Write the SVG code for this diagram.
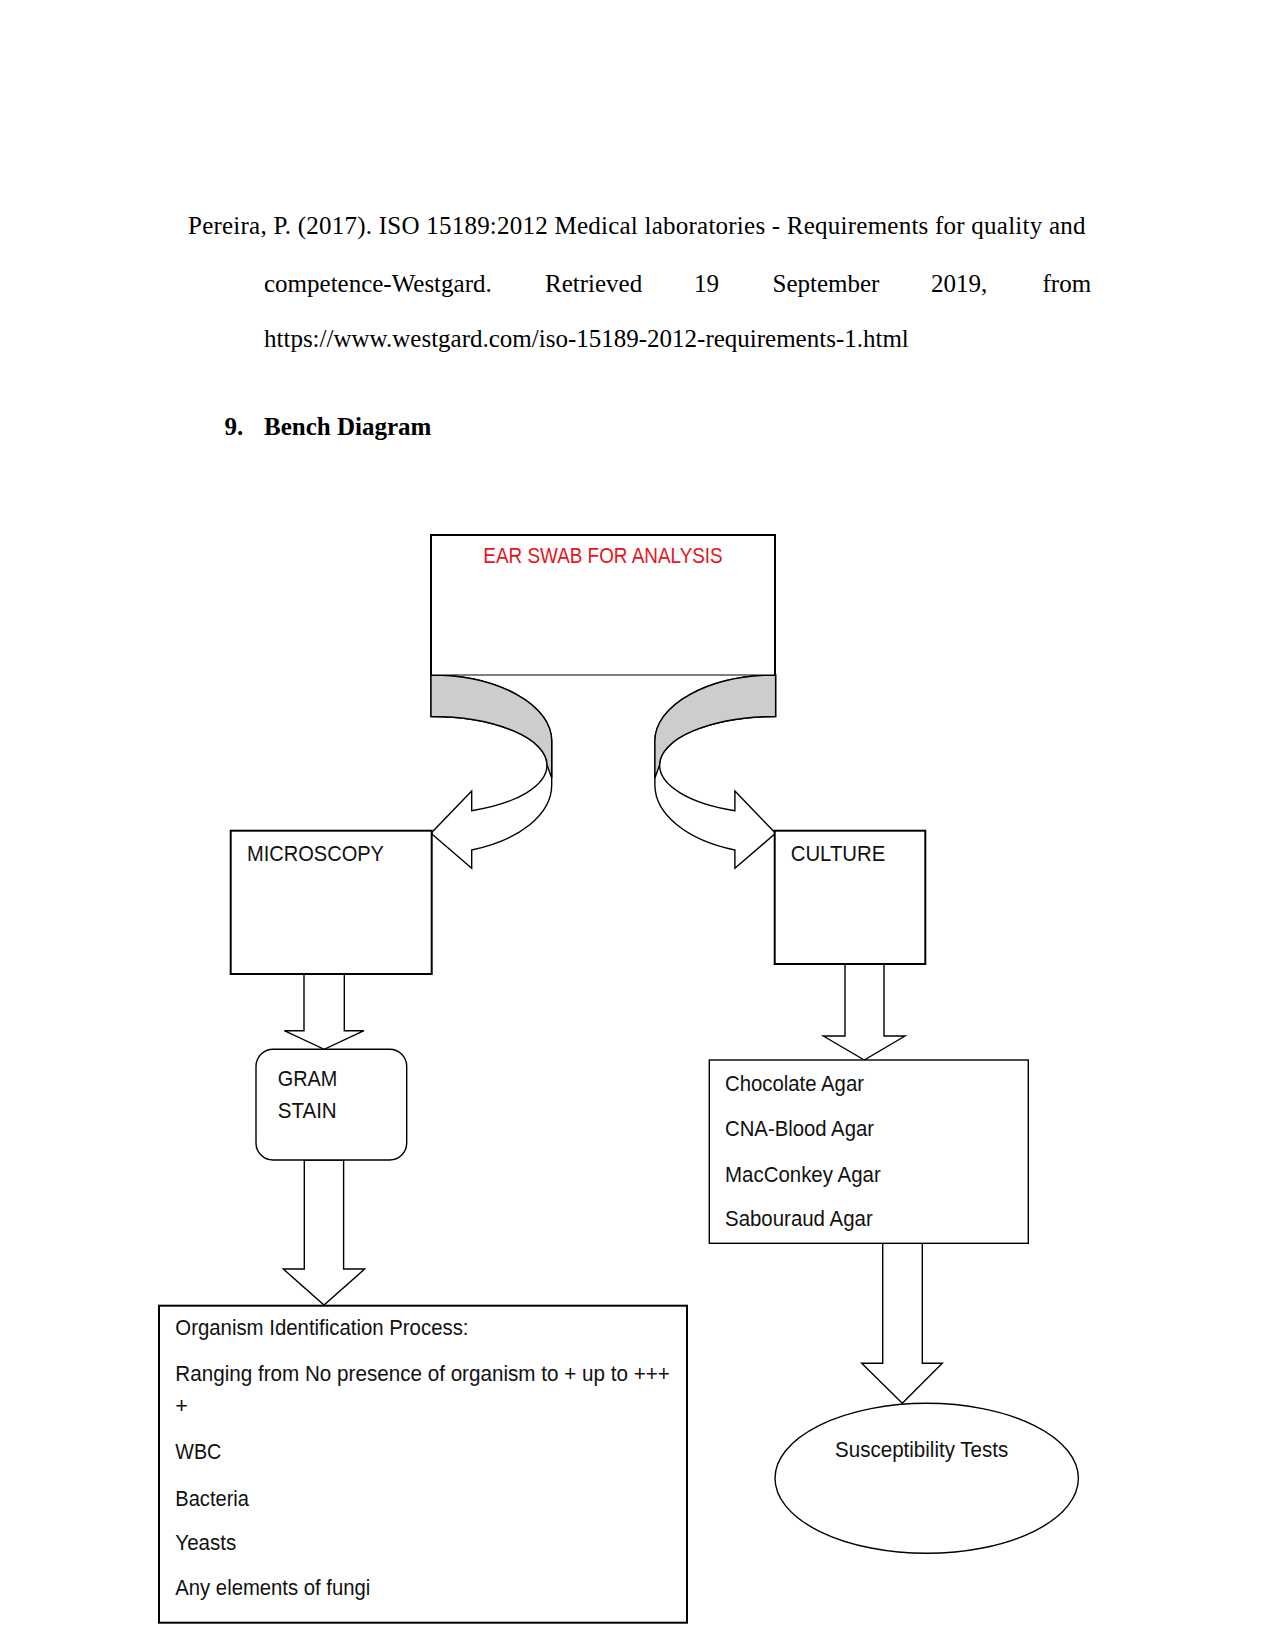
<svg xmlns="http://www.w3.org/2000/svg" xmlns:xlink="http://www.w3.org/1999/xlink" width="1275" height="1651" viewBox="0 0 1275 1651">
<style>
.serif{font-family:"Liberation Serif","Times New Roman",serif;font-size:25px;fill:#000}
.bold{font-weight:bold}
.lbl{font-family:"Liberation Sans",Arial,sans-serif;font-size:21.5px;fill:#111}
.red{fill:#e3161e}
.box{fill:#fff;stroke:#000;stroke-width:2}
.thin{fill:#fff;stroke:#000;stroke-width:1.4}
.arrow{fill:#fff;stroke:#000;stroke-width:1.4;stroke-linejoin:miter}
.shade{fill:#cdcdcd;stroke:#000;stroke-width:1.4}
</style>
<defs>
<g id="curved">
<path class="arrow" d="M431,675 A120.7,66 0 0 1 551.7,741 L551.7,785 A120.7,69 0 0 1 471.7,850 L471.7,868.3 L431,833.3 L471.7,791 L471.7,810.7 A116,48.5 0 0 0 547,765 A116,48.5 0 0 0 431,716.5 Z"/>
<path class="shade" d="M431,675 A120.7,66 0 0 1 551.7,741 L551.7,778 L547,765 A116,48.5 0 0 0 431,716.5 Z"/>
</g>
</defs>
<rect width="1275" height="1651" fill="#fff"/>

<g id="header">
<text class="serif" x="188" y="233.5" textLength="897.5" lengthAdjust="spacing">Pereira, P. (2017). ISO 15189:2012 Medical laboratories - Requirements for quality and</text>
<text class="serif" x="264" y="292">competence-Westgard.</text>
<text class="serif" x="545" y="292">Retrieved</text>
<text class="serif" x="694" y="292">19</text>
<text class="serif" x="772.5" y="292">September</text>
<text class="serif" x="931" y="292">2019,</text>
<text class="serif" x="1042.5" y="292">from</text>
<text class="serif" x="264" y="347">https://www.westgard.com/iso-15189-2012-requirements-1.html</text>
<text class="serif bold" x="224.6" y="435">9.</text>
<text class="serif bold" x="264" y="435">Bench Diagram</text>
</g>

<g id="connectors">
<use xlink:href="#curved"/>
<use xlink:href="#curved" transform="translate(1206.6,0) scale(-1,1)"/>
<path class="arrow" d="M304,974 L304,1030.7 L284.3,1030.7 L324.2,1049.3 L364,1030.7 L344.3,1030.7 L344.3,974 Z"/>
<path class="arrow" d="M304.3,1160 L304.3,1269 L283.3,1269 L324,1305 L364.7,1269 L343.6,1269 L343.6,1160 Z"/>
<path class="arrow" d="M845,964 L845,1036 L823.3,1036 L864.3,1060 L905,1036 L884,1036 L884,964 Z"/>
<path class="arrow" d="M882.7,1243.3 L882.7,1363.3 L861.7,1363.3 L902.3,1403.3 L942.3,1363.3 L922.3,1363.3 L922.3,1243.3 Z"/>
</g>

<g id="ear-swab">
<rect x="431" y="535" width="344" height="140" fill="#fff"/>
<path d="M431,675 V535 H775 V675" fill="none" stroke="#000" stroke-width="2"/>
<line x1="431" y1="675" x2="775" y2="675" stroke="#000" stroke-width="1"/>
<text class="lbl red" x="483.3" y="562.7" textLength="239.4" lengthAdjust="spacingAndGlyphs">EAR SWAB FOR ANALYSIS</text>
</g>

<g id="microscopy">
<rect class="box" x="230.7" y="830.7" width="201" height="143.3"/>
<text class="lbl" x="247" y="860.7" textLength="137" lengthAdjust="spacingAndGlyphs">MICROSCOPY</text>
</g>

<g id="culture">
<rect class="box" x="774.7" y="830.7" width="150.6" height="133.3"/>
<text class="lbl" x="790.7" y="860.7" textLength="94.6" lengthAdjust="spacingAndGlyphs">CULTURE</text>
</g>

<g id="gram-stain">
<rect class="thin" x="256" y="1049.3" width="150.7" height="110.7" rx="17" ry="17"/>
<text class="lbl" x="277.7" y="1085.7" textLength="59.6" lengthAdjust="spacingAndGlyphs">GRAM</text>
<text class="lbl" x="277.7" y="1117.7" textLength="59" lengthAdjust="spacingAndGlyphs">STAIN</text>
</g>

<g id="agars">
<rect class="thin" x="709.3" y="1060" width="319" height="183.3"/>
<text class="lbl" x="725" y="1091" textLength="139" lengthAdjust="spacingAndGlyphs">Chocolate Agar</text>
<text class="lbl" x="725" y="1136" textLength="149" lengthAdjust="spacingAndGlyphs">CNA-Blood Agar</text>
<text class="lbl" x="725" y="1181.7" textLength="155.7" lengthAdjust="spacingAndGlyphs">MacConkey Agar</text>
<text class="lbl" x="725" y="1226" textLength="147.7" lengthAdjust="spacingAndGlyphs">Sabouraud Agar</text>
</g>

<g id="organism-id">
<rect class="box" x="159" y="1305.7" width="528" height="317"/>
<text class="lbl" x="175.3" y="1335" textLength="293.2" lengthAdjust="spacingAndGlyphs">Organism Identification Process:</text>
<text class="lbl" x="175.3" y="1381" textLength="494.5" lengthAdjust="spacingAndGlyphs">Ranging from No presence of organism to + up to +++</text>
<text class="lbl" x="175.3" y="1413">+</text>
<text class="lbl" x="175.3" y="1459" textLength="46" lengthAdjust="spacingAndGlyphs">WBC</text>
<text class="lbl" x="175.3" y="1505.7" textLength="73.7" lengthAdjust="spacingAndGlyphs">Bacteria</text>
<text class="lbl" x="175.3" y="1550" textLength="61" lengthAdjust="spacingAndGlyphs">Yeasts</text>
<text class="lbl" x="175.3" y="1595" textLength="195" lengthAdjust="spacingAndGlyphs">Any elements of fungi</text>
</g>

<g id="susceptibility">
<ellipse class="thin" cx="926.7" cy="1478.3" rx="151.7" ry="75"/>
<text class="lbl" x="835" y="1456.7" textLength="173.3" lengthAdjust="spacingAndGlyphs">Susceptibility Tests</text>
</g>
</svg>
